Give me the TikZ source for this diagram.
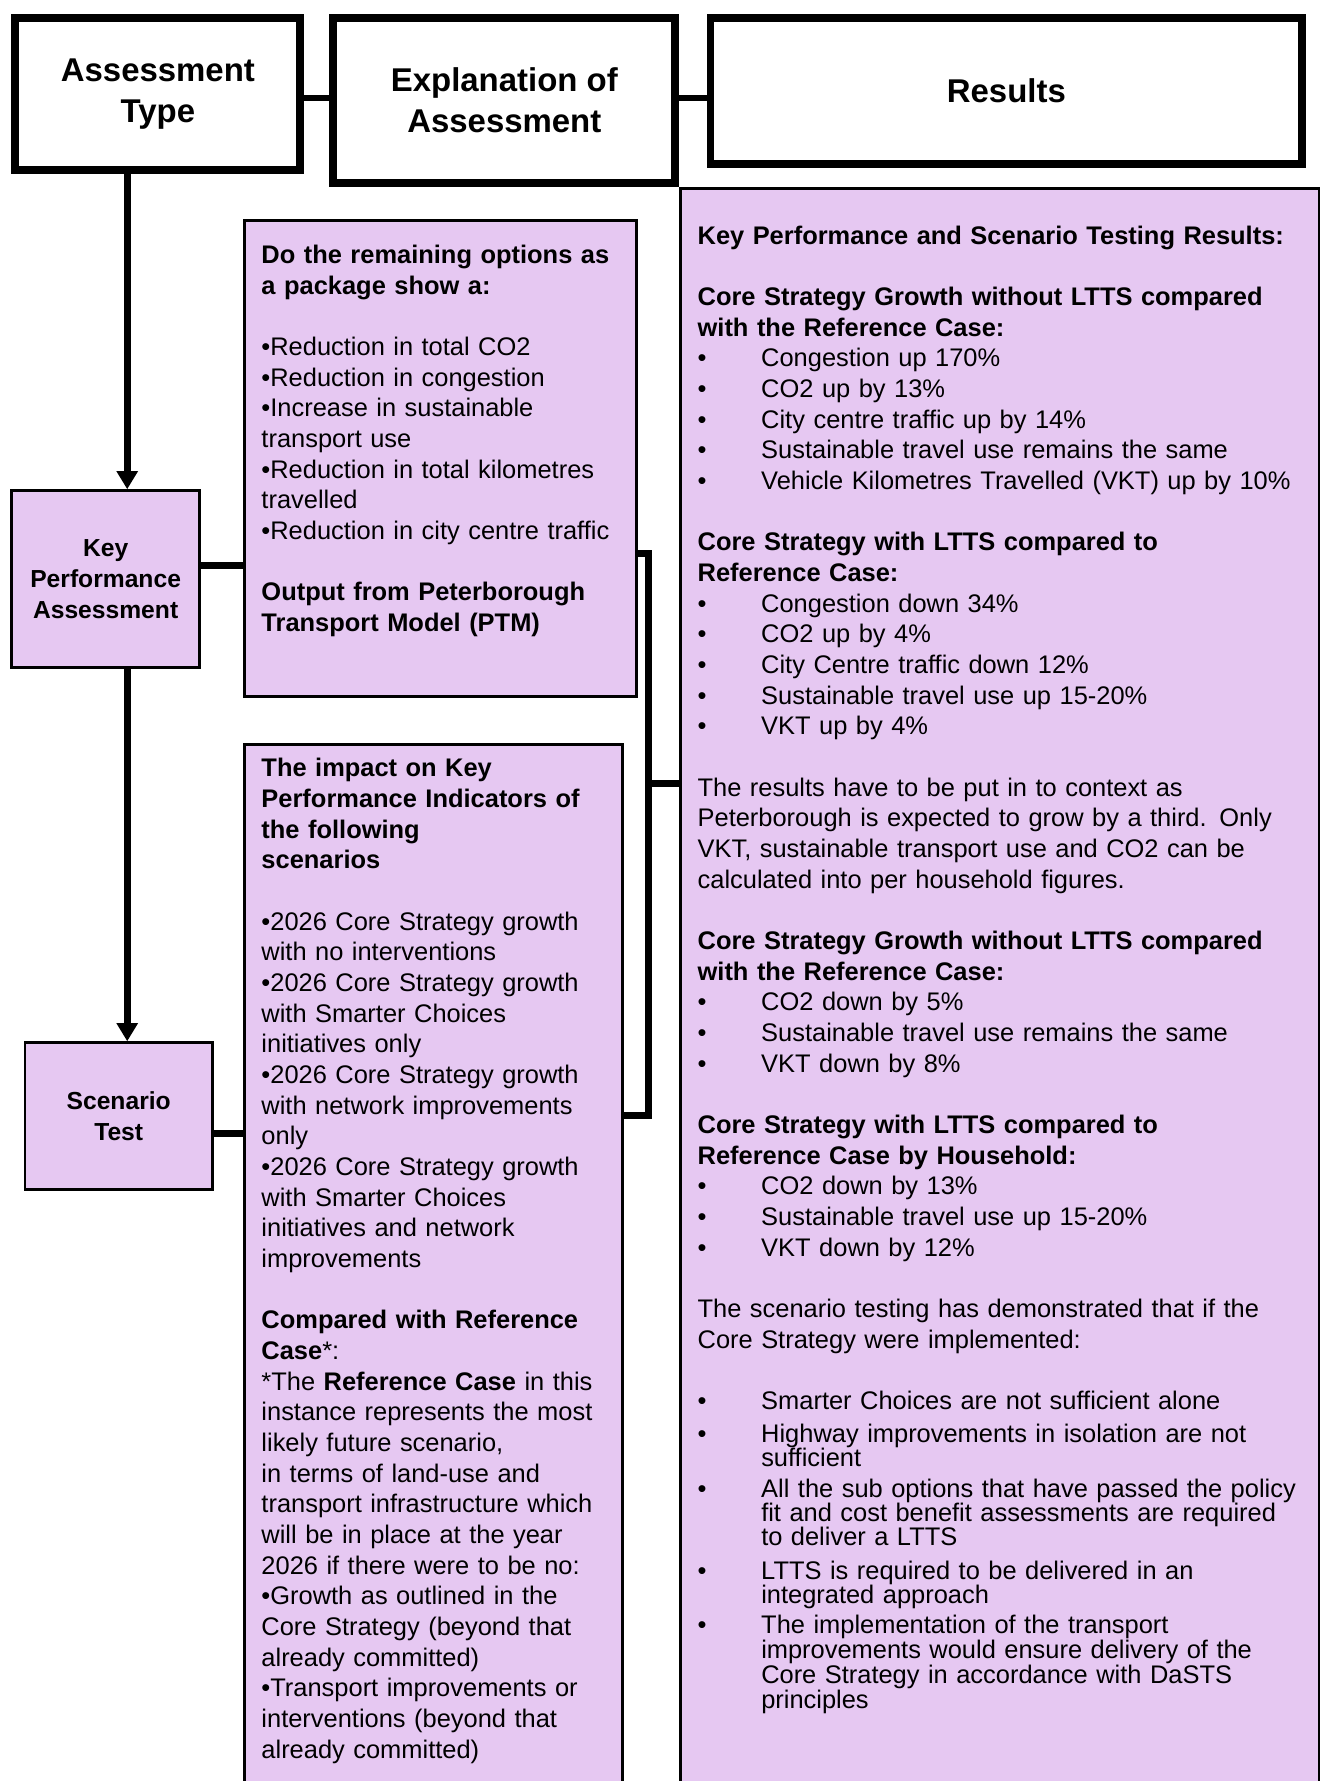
\documentclass[tikz,border=0pt]{standalone}
\usepackage{fontspec}
\setmainfont{Liberation Sans}
\usetikzlibrary{arrows.meta}
\definecolor{lilac}{RGB}{230,200,242}
\newcommand{\bl}{\makebox[56pt][l]{•}}
\tikzset{
  hbox/.style={draw, line width=7pt, fill=white, inner sep=0pt, align=center,
    font=\fontsize{29}{36}\selectfont\bfseries},
  tbox/.style={draw, line width=2.5pt, fill=lilac, inner sep=0pt, align=center,
    font=\fontsize{21.7}{27}\selectfont\bfseries},
  pbox/.style={draw, line width=2.5pt, fill=lilac, inner sep=0pt, anchor=north west},
  txt/.style={anchor=base west, inner sep=0pt, align=left, text width=#1,
    font=\fontsize{22.4}{27}\selectfont},
  txt/.default=600,
  link/.style={line width=6pt},
  arr/.style={link, -{Triangle[width=18pt,length=16pt]}}
}
\begin{document}
\begin{tikzpicture}[x=1pt,y=-1pt]
\path[use as bounding box, fill=white] (0,0) rectangle (1162,1568);
\def\sx{112} % x of the left spine
\def\bx{571} % x of the bracket
% big boxes
\node[pbox, minimum width=562, minimum height=1420] (res) at (598,165) {};
\node[pbox, minimum width=345, minimum height=419] (box1) at (214,193) {};
\node[pbox, minimum width=333, minimum height=940] (box2) at (214,654) {};
% header row
\node[hbox, minimum width=251, minimum height=134] (at) at (139,82.5) {Assessment\\Type};
\node[hbox, minimum width=301, minimum height=146] (eoa) at (444,88.5) {Explanation of\\Assessment};
\node[hbox, minimum width=521, minimum height=129] (rh) at (886,80) {Results};
% assessment types
\node[tbox, minimum width=166, minimum height=156] (kpa) at (93,510) {Key\\Performance\\Assessment};
\node[tbox, minimum width=165, minimum height=129] (st) at (104.5,982.5) {Scenario\\Test};
% texts
\node[txt] (t1) at (230,232) {%
\textbf{Do the remaining options as}\\
\textbf{a package show a:}\\[27pt]
•Reduction in total CO2\\
•Reduction in congestion\\
•Increase in sustainable\\
transport use\\
•Reduction in total kilometres\\
travelled\\
•Reduction in city centre traffic\\[27pt]
\textbf{Output from Peterborough}\\
\textbf{Transport Model (PTM)}};
\node[txt] (t2) at (230,684) {%
\textbf{The impact on Key}\\
\textbf{Performance Indicators of}\\
\textbf{the following}\\
\textbf{scenarios}\\[27pt]
•2026 Core Strategy growth\\
with no interventions\\
•2026 Core Strategy growth\\
with Smarter Choices\\
initiatives only\\
•2026 Core Strategy growth\\
with network improvements\\
only\\
•2026 Core Strategy growth\\
with Smarter Choices\\
initiatives and network\\
improvements\\[27pt]
\textbf{Compared with Reference}\\
\textbf{Case}*:\\
{*}The \textbf{Reference Case} in this\\
instance represents the most\\
likely future scenario,\\
in terms of land-use and\\
transport infrastructure which\\
will be in place at the year\\
2026 if there were to be no:\\
•Growth as outlined in the\\
Core Strategy (beyond that\\
already committed)\\
•Transport improvements or\\
interventions (beyond that\\
already committed)};
\node[txt] (t3) at (614,215) {%
\textbf{Key Performance and Scenario Testing Results:}\\[27pt]
\textbf{Core Strategy Growth without LTTS compared}\\
\textbf{with the Reference Case:}\\
\bl Congestion up 170\%\\
\bl CO2 up by 13\%\\
\bl City centre traffic up by 14\%\\
\bl Sustainable travel use remains the same\\
\bl Vehicle Kilometres Travelled (VKT) up by 10\%\\[27pt]
\textbf{Core Strategy with LTTS compared to}\\
\textbf{Reference Case:}\\
\bl Congestion down 34\%\\
\bl CO2 up by 4\%\\
\bl City Centre traffic down 12\%\\
\bl Sustainable travel use up 15-20\%\\
\bl VKT up by 4\%\\[27pt]
The results have to be put in to context as\\
Peterborough is expected to grow by a third. Only\\
VKT, sustainable transport use and CO2 can be\\
calculated into per household figures.\\[27pt]
\textbf{Core Strategy Growth without LTTS compared}\\
\textbf{with the Reference Case:}\\
\bl CO2 down by 5\%\\
\bl Sustainable travel use remains the same\\
\bl VKT down by 8\%\\[27pt]
\textbf{Core Strategy with LTTS compared to}\\
\textbf{Reference Case by Household:}\\
\bl CO2 down by 13\%\\
\bl Sustainable travel use up 15-20\%\\
\bl VKT down by 12\%\\[27pt]
The scenario testing has demonstrated that if the\\
Core Strategy were implemented:\\[27pt]
\bl Smarter Choices are not sufficient alone\\[2pt]
\bl Highway improvements in isolation are not\\[-6pt]
\hspace*{56pt}sufficient\\
\bl All the sub options that have passed the policy\\[-5.5pt]
\hspace*{56pt}fit and cost benefit assessments are required\\[-5.5pt]
\hspace*{56pt}to deliver a LTTS\\[3pt]
\bl LTTS is required to be delivered in an\\[-6.5pt]
\hspace*{56pt}integrated approach\\
\bl The implementation of the transport\\[-5pt]
\hspace*{56pt}improvements would ensure delivery of the\\[-5pt]
\hspace*{56pt}Core Strategy in accordance with DaSTS\\[-5pt]
\hspace*{56pt}principles};
% connectors
\coordinate (sp) at (\sx,0);
\coordinate (hj) at (0,86);
\coordinate (kj) at (0,498);
\coordinate (sj) at (0,998);
\coordinate (b1) at (\bx,487);
\coordinate (b2) at (\bx,982);
\coordinate (b3) at (\bx,690);
\draw[link, line width=5pt] (at.east |- hj) -- (eoa.west |- hj);
\draw[link, line width=5pt] (eoa.east |- hj) -- (rh.west |- hj);
\draw[arr] (at.south -| sp) -- (kpa.north -| sp);
\draw[arr] (kpa.south -| sp) -- (st.north -| sp);
\draw[link] (kpa.east |- kj) -- (box1.west |- kj);
\draw[link] (st.east |- sj) -- (box2.west |- sj);
\draw[link] (box1.east |- b1) -- (b1) -- (b2) -- (box2.east |- b2);
\draw[link] (b3) -- (res.west |- b3);
\end{tikzpicture}
\end{document}
